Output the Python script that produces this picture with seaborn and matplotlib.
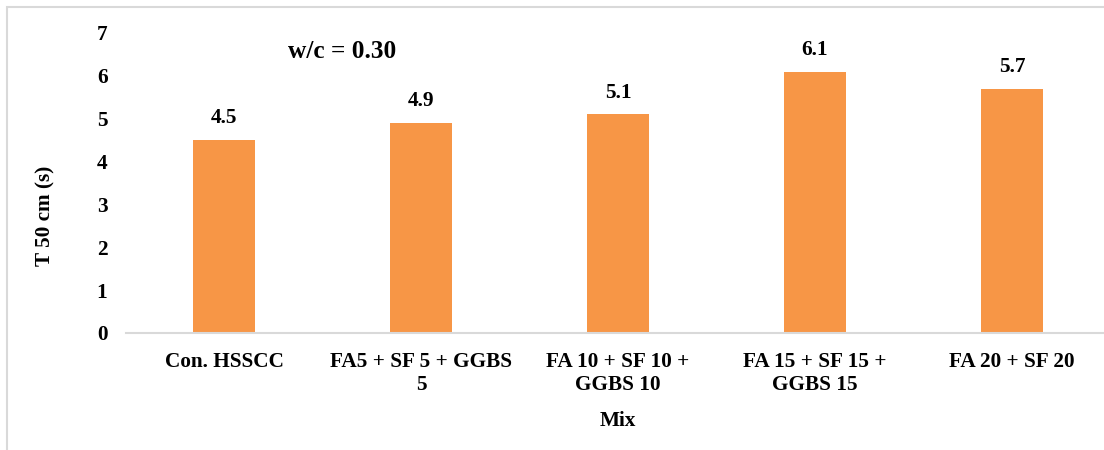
import matplotlib
matplotlib.use("Agg")
import matplotlib.pyplot as plt
from matplotlib.patches import Rectangle
import seaborn as sns
import pandas as pd

# Mix designs and their T50 slump-flow times
mixes = [
    "Con. HSSCC",
    "FA5 + SF 5 + GGBS\n5",
    "FA 10 + SF 10 +\nGGBS 10",
    "FA 15 + SF 15 +\nGGBS 15",
    "FA 20 + SF 20",
]
t50_values = [4.5, 4.9, 5.1, 6.1, 5.7]
y_ticks = [0, 1, 2, 3, 4, 5, 6, 7]

df = pd.DataFrame({"Mix": mixes, "T50": t50_values})

sns.set_style("white")
plt.rcParams["font.family"] = ["Liberation Serif", "DejaVu Serif"]
plt.rcParams["font.weight"] = "bold"
plt.rcParams["text.color"] = "black"
plt.rcParams["axes.labelcolor"] = "black"
plt.rcParams["xtick.color"] = "black"
plt.rcParams["ytick.color"] = "black"

FS = 15.3

W, H = 1104, 450
fig = plt.figure(figsize=(W / 100, H / 100), dpi=100)
ax = fig.add_axes([125.5 / W, (H - 333) / H, 985 / W, 300 / H])

bar_color = "#F79646"
sns.barplot(data=df, x="Mix", y="T50", color=bar_color, width=0.315,
            saturation=1, ax=ax, edgecolor="none")

ax.set_ylim(0, 7)
ax.set_xlim(-0.5, len(mixes) - 0.5)
ax.set_yticks(y_ticks)
ax.set_yticklabels([str(t) for t in y_ticks], fontsize=FS, fontweight="bold")
ax.tick_params(axis="y", length=0, pad=13)
ax.tick_params(axis="x", length=0, pad=14)
for lbl in ax.get_xticklabels():
    lbl.set_fontsize(FS)
    lbl.set_fontweight("bold")
    lbl.set_linespacing(1.15)

for side in ["top", "right", "left"]:
    ax.spines[side].set_visible(False)
ax.spines["bottom"].set_color("#D9D9D9")
ax.spines["bottom"].set_linewidth(1.5)
ax.grid(False)

# Value labels above each bar
for i, v in enumerate(t50_values):
    ax.annotate(f"{v}", xy=(i, v), xytext=(0, 12), textcoords="offset points",
                ha="center", va="baseline", fontsize=FS, fontweight="bold")

ax.set_xlabel("Mix", fontsize=FS, fontweight="bold", labelpad=12)
ax.set_ylabel("T 50 cm (s)", fontsize=FS, fontweight="bold")
ax.yaxis.set_label_coords(-0.071, 0.39)

# Water/cement ratio note, placed in figure pixels
fig.text(342 / W, 1 - 51 / H, "w/c = 0.30", fontsize=18.3, fontweight="bold",
         ha="center", va="center")

# Chart frame
fig.patches.append(Rectangle((6.5 / W, -0.1), 1.2, (H - 6.5) / H + 0.1,
                             transform=fig.transFigure, fill=False,
                             edgecolor="#D9D9D9", linewidth=1.5))

fig.savefig("out.png", dpi=100)
